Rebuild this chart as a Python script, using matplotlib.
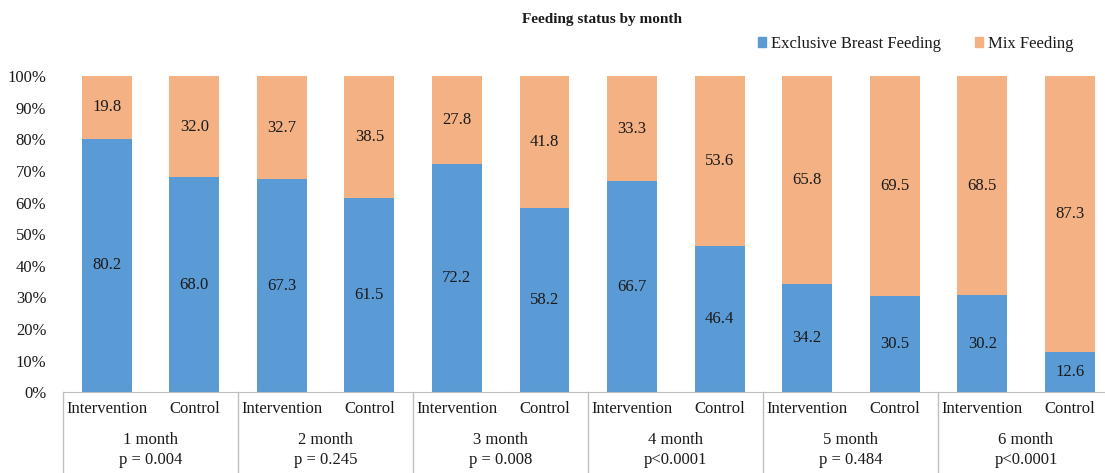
import numpy as np
import matplotlib
matplotlib.use("Agg")
import matplotlib.pyplot as plt
from matplotlib.patches import Patch

plt.rcParams['font.family'] = ['Liberation Serif', 'DejaVu Serif']

groups = ["Intervention", "Control"]
months = ["1 month", "2 month", "3 month", "4 month", "5 month", "6 month"]
p_values = ["p = 0.004", "p = 0.245", "p = 0.008", "p<0.0001", "p = 0.484", "p<0.0001"]
ebf = [80.2, 68.0, 67.3, 61.5, 72.2, 58.2, 66.7, 46.4, 34.2, 30.5, 30.2, 12.6]
mix = [19.8, 32.0, 32.7, 38.5, 27.8, 41.8, 33.3, 53.6, 65.8, 69.5, 68.5, 87.3]

blue = "#5B9BD5"
orange = "#F4B183"
txt = "#1a1a1a"
line_col = "#BFBFBF"

# 100% stacked, like the excel chart
ebf = np.array(ebf)
mix = np.array(mix)
tot = ebf + mix
ebf_pct = ebf / tot
mix_pct = mix / tot

fig = plt.figure(figsize=(11.05, 4.73), dpi=100)
ax = fig.add_axes([0.057, 0.171, 0.9507, 0.668])

x = np.arange(len(ebf))
ax.bar(x, ebf_pct, width=0.57, color=blue)
ax.bar(x, mix_pct, width=0.57, bottom=ebf_pct, color=orange)

for i in x:
    ax.text(i, ebf_pct[i] / 2, "%.1f" % ebf[i], ha="center", va="center",
            fontsize=12, color=txt)
    ax.text(i, ebf_pct[i] + mix_pct[i] / 2, "%.1f" % mix[i], ha="center",
            va="center", fontsize=12, color=txt)

ax.set_xlim(-0.5, len(ebf) - 0.5)
ax.set_ylim(0, 1)
ax.set_yticks(np.arange(0, 1.01, 0.1))
ax.set_yticklabels(["%d%%" % v for v in range(0, 101, 10)], fontsize=12, color=txt)
ax.tick_params(axis="y", length=0, pad=12)
ax.set_xticks([])
for s in ["top", "right", "left"]:
    ax.spines[s].set_visible(False)
ax.spines["bottom"].set_color(line_col)

# two level category axis
trans = ax.get_xaxis_transform()
for i in x:
    ax.text(i, -0.055, groups[i % 2], transform=trans, ha="center", va="center",
            fontsize=12, color=txt)
for g in range(len(months)):
    c = 2 * g + 0.5
    ax.text(c, -0.15, months[g], transform=trans, ha="center", va="center",
            fontsize=12, color=txt)
    ax.text(c, -0.215, p_values[g], transform=trans, ha="center", va="center",
            fontsize=12, color=txt)
for g in range(len(months) + 1):
    ax.plot([2 * g - 0.5, 2 * g - 0.5], [0, -0.26], transform=trans,
            color=line_col, lw=1, clip_on=False)

fig.text(0.545, 0.958, "Feeding status by month", ha="center", va="center",
         fontsize=11, fontweight="bold", color=txt)

handles = [Patch(color=blue, label="Exclusive Breast Feeding"),
           Patch(color=orange, label="Mix Feeding")]
fig.legend(handles=handles, loc="center right", bbox_to_anchor=(0.985, 0.907),
           ncol=2, frameon=False, fontsize=12, handlelength=0.5, handleheight=0.5,
           handletextpad=0.3, columnspacing=2.0, labelcolor=txt)

fig.savefig("out.png", dpi=100)
